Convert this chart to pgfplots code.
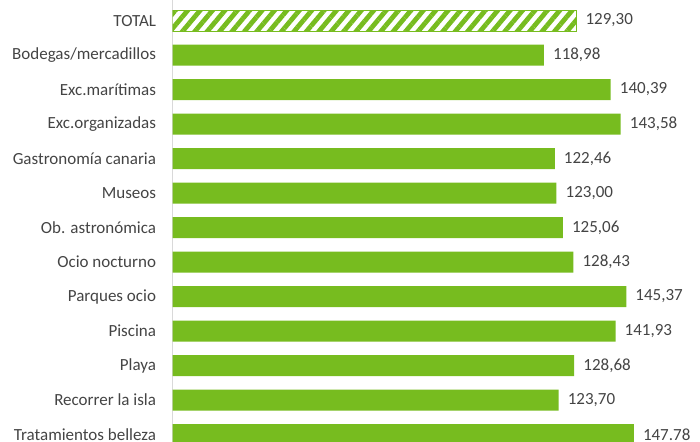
\documentclass[border=0pt]{standalone}
\usepackage{fontspec}
\setmainfont{Carlito}
\usepackage{pgfplots}
\pgfplotsset{compat=1.18}
\usepackage{pgfplotstable}
\usetikzlibrary{patterns.meta}
\definecolor{bargreen}{HTML}{77BC1F}
\definecolor{txt}{HTML}{444444}
\pgfplotstableread{
y v lab
0 129.30 129,30
}\total
\pgfplotstableread{
y v lab
1 118.98 118,98
2 140.39 140,39
3 143.58 143,58
4 122.46 122,46
5 123.00 123,00
6 125.06 125,06
7 128.43 128,43
8 145.37 145,37
9 141.93 141,93
10 128.68 128,68
11 123.70 123,70
12 147.78 147.78
}\data
\begin{document}
\begin{tikzpicture}
\begin{axis}[
  at={(172.7pt,-14.2pt)}, anchor=south west, scale only axis,
  width=527.3pt, height=455pt,
  xmin=0, xmax=169, ymin=-0.59, ymax=12.6, y dir=reverse,
  axis x line=none, axis y line=left, xtick=\empty,
  y axis line style={-, draw=black!15, line width=0.8pt},
  ytick={0,...,12},
  yticklabels={TOTAL,Bodegas/mercadillos,Exc.marítimas,Exc.organizadas,Gastronomía canaria,Museos,Ob. astronómica,Ocio nocturno,Parques ocio,Piscina,Playa,Recorrer la isla,Tratamientos belleza},
  major tick length=0pt,
  yticklabel style={font=\fontsize{17}{20}\selectfont, text=txt, anchor=east, inner sep=0pt, xshift=-16.5pt},
  xbar, bar width=21pt, bar shift=0pt,
  nodes near coords, point meta=explicit symbolic,
  every node near coord/.append style={font=\fontsize{17}{20}\selectfont, text=txt, anchor=west, inner sep=0pt, xshift=9pt},
]
\addplot[draw=bargreen, line width=0.8pt, pattern={Lines[angle=50,distance=9.5pt,line width=4.8pt]}, pattern color=bargreen] table[x=v, y=y, meta=lab] {\total};
\addplot[draw=none, fill=bargreen] table[x=v, y=y, meta=lab] {\data};
\end{axis}
\pgfresetboundingbox
\path[use as bounding box] (0,0) rectangle (700pt,441pt);
\end{tikzpicture}
\end{document}
